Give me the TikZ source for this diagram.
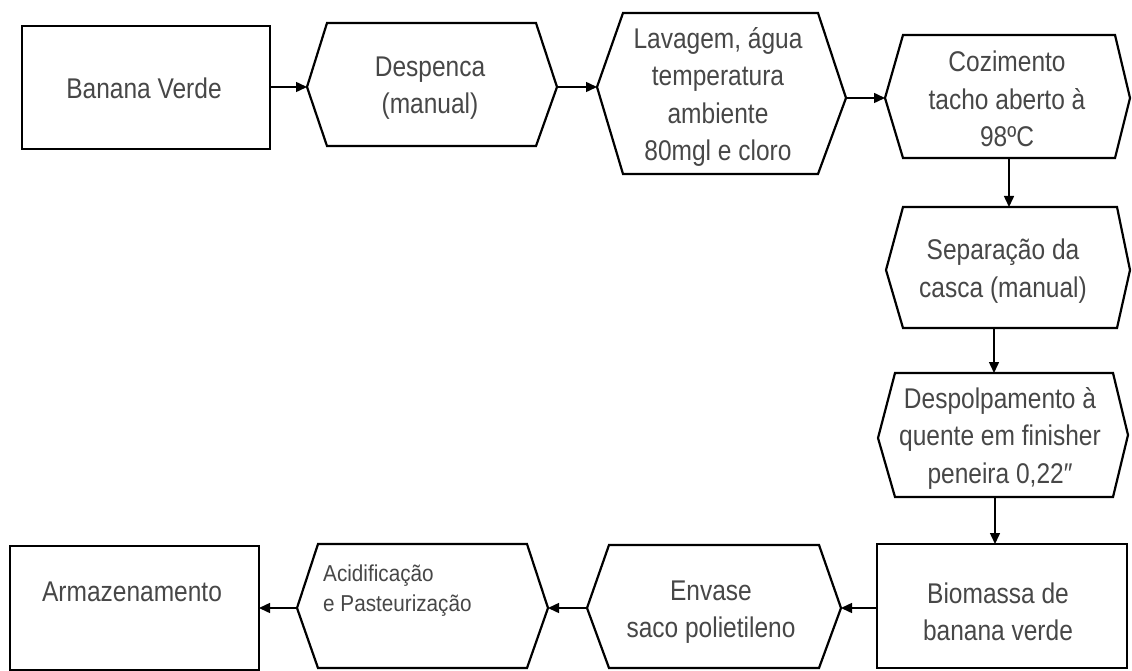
\documentclass[tikz,border=0pt]{standalone}
\usepackage{fontspec}
\setmainfont{Liberation Sans}[FakeStretch=0.86]
\newfontfamily\smallfont{Liberation Sans}[FakeStretch=0.9]
\usetikzlibrary{arrows.meta}
\begin{document}
\begin{tikzpicture}[x=1pt,y=-1pt,
  boxline/.style={draw=black,line width=2.2pt,line join=miter},
  lbl/.style={text=black!72,align=center,inner sep=0pt,font=\fontsize{28.5}{37.5}\selectfont},
  smalllbl/.style={text=black!72,align=left,inner sep=0pt,anchor=north west,font=\smallfont\fontsize{23}{30}\selectfont},
  flow/.style={draw=black,line width=1.5pt,-{Triangle[length=11pt,width=10pt]}}]
\useasboundingbox (0,0) rectangle (1132,671);
\fill[white] (0,0) rectangle (1132,671);

% 1 Banana Verde
\draw[boxline] (22,26) rectangle (270,149);
\node[lbl] (banana) at (144,88) {Banana Verde};
\coordinate (banana-E) at (270,87);

% 2 Despenca
\draw[boxline] (307,87) -- (327,23) -- (536,23) -- (557,87) -- (536,146) -- (327,146) -- cycle;
\coordinate (desp-L) at (307,87);
\coordinate (desp-R) at (557,87);
\node[lbl] (despenca) at (430,88) {Despenca\\(manual)};

% 3 Lavagem
\draw[boxline] (597,87) -- (623,13) -- (818,13) -- (846,98) -- (818,174) -- (623,174) -- cycle;
\coordinate (lav-L) at (597,87);
\coordinate (lav-R) at (846,98);
\node[lbl] (lavagem) at (718,97) {Lavagem, água\\temperatura\\ambiente\\80mgl e cloro};

% 4 Cozimento
\draw[boxline] (885,98) -- (903,35) -- (1115,35) -- (1130,98) -- (1115,158) -- (903,158) -- cycle;
\coordinate (coz-L) at (885,98);
\coordinate (coz-B) at (1009,158);
\node[lbl] (cozimento) at (1007,99) {Cozimento\\tacho aberto à\\98ºC};

% 5 Separacao
\draw[boxline] (886,270) -- (903,207) -- (1117,207) -- (1130,270) -- (1117,328) -- (903,328) -- cycle;
\coordinate (sep-T) at (1009,207);
\coordinate (sep-B) at (994,328);
\node[lbl] (separacao) at (1003,271) {Separação da\\casca (manual)};

% 6 Despolpamento
\draw[boxline] (878,438) -- (895,373) -- (1113,373) -- (1128,435) -- (1113,497) -- (895,497) -- cycle;
\coordinate (dpl-T) at (994,373);
\coordinate (dpl-B) at (995,497);
\node[lbl] (despolpa) at (1000,438) {Despolpamento à\\quente em finisher\\peneira 0,22″};

% 7 Biomassa
\draw[boxline] (877,544) rectangle (1127,668);
\coordinate (bio-T) at (995,544);
\coordinate (bio-W) at (877,608);
\node[lbl] (biomassa) at (998,612) {Biomassa de\\banana verde};

% 8 Envase
\draw[boxline] (587,608) -- (609,545) -- (819,545) -- (841,608) -- (819,668) -- (609,668) -- cycle;
\coordinate (env-L) at (587,608);
\coordinate (env-R) at (841,608);
\node[lbl] (envase) at (711,612) {Envase\\saco polietileno};

% 9 Acidificacao
\draw[boxline] (297,608) -- (318,544) -- (527,544) -- (548,608) -- (527,668) -- (318,668) -- cycle;
\coordinate (aci-L) at (297,608);
\coordinate (aci-R) at (548,608);
\node[smalllbl] (acidif) at (323,565) {Acidificação\\e Pasteurização};

% 10 Armazenamento
\draw[boxline] (10,546) rectangle (259,670);
\coordinate (arm-E) at (259,608);
\node[lbl] (armaz) at (132,592) {Armazenamento};

% connectors
\draw[flow] (banana-E) -- (desp-L);
\draw[flow] (desp-R) -- (lav-L);
\draw[flow] (lav-R) -- (coz-L);
\draw[flow] (coz-B) -- (sep-T);
\draw[flow] (sep-B) -- (dpl-T);
\draw[flow] (dpl-B) -- (bio-T);
\draw[flow] (bio-W) -- (env-R);
\draw[flow] (env-L) -- (aci-R);
\draw[flow] (aci-L) -- (arm-E);
\end{tikzpicture}
\end{document}
